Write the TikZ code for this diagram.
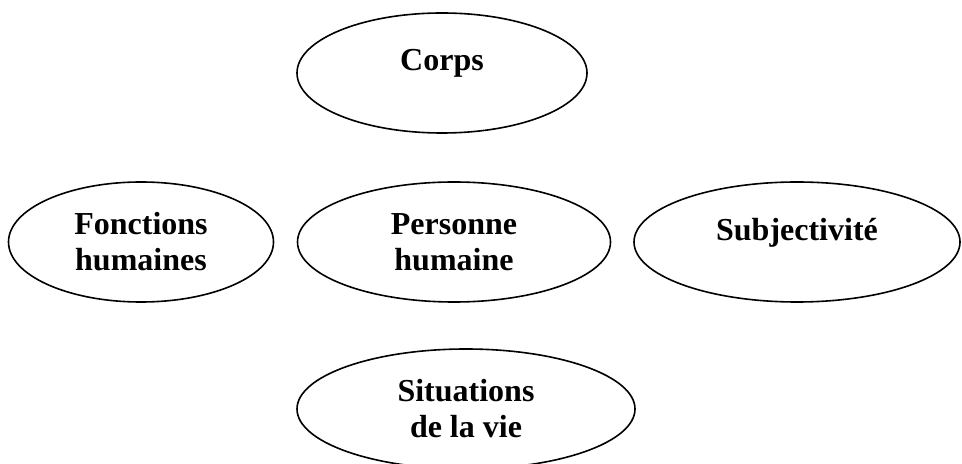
\documentclass[tikz,border=0pt]{standalone}
\usepackage{fontspec}
\setmainfont{Liberation Serif}
\usepackage{tikz}
\usetikzlibrary{shapes.geometric}

\begin{document}
\begin{tikzpicture}[x=0.5pt,y=-0.5pt,
  oval/.style={draw=black,line width=0.8pt,ellipse,inner sep=0pt,
               minimum height=60pt,align=center,
               font=\fontsize{16pt}{18pt}\selectfont\bfseries}
]
  \useasboundingbox (0,0) rectangle (962,464);
  % top
  \node[oval,minimum width=145pt] (corps) at (442,73) {Corps\\[-5pt]~};
  % middle row
  \node[oval,minimum width=132.5pt] (fonctions) at (141,242) {Fonctions\\humaines};
  \node[oval,minimum width=156.5pt] (personne) at (454,242) {Personne\\humaine};
  \node[oval,minimum width=163pt] (subj) at (797,242) {Subjectivité\\[-5pt]~};
  % bottom
  \node[oval,minimum width=169pt] (situations) at (466,409) {Situations\\de la vie};
\end{tikzpicture}
\end{document}
